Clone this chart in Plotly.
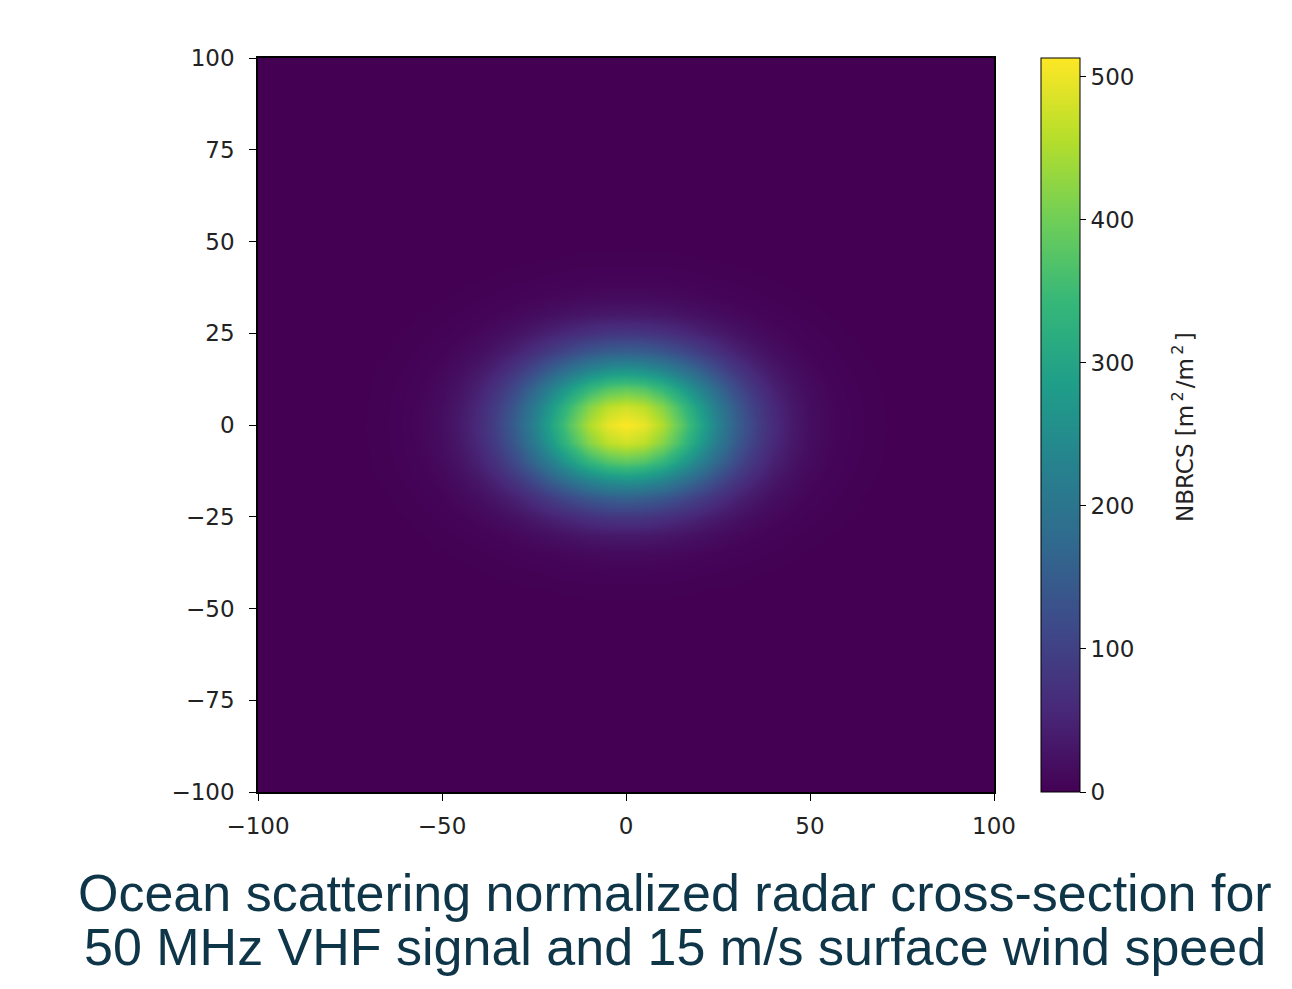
import plotly.graph_objects as go

# Grid positions (units of the axes)
x_pos = list(range(-100, 101, 5))
y_pos = list(range(-100, 101, 5))

# NBRCS profile along y = 0 (x = 0, 5, ..., 100; symmetric)
x_profile_half = [513, 497, 450, 382, 303, 226, 157, 102, 63, 36, 19, 10, 4.5, 2, 0.8, 0.3, 0, 0, 0, 0, 0]
# NBRCS profile along x = 0 (y = 0, 5, ..., 100; symmetric)
y_profile_half = [513, 476, 382, 264, 157, 81, 36, 14, 4.5, 1.3, 0.3, 0, 0, 0, 0, 0, 0, 0, 0, 0, 0]

peak_value = 513
cbar_ticks = [0, 100, 200, 300, 400, 500]
x_ticks = [-100, -50, 0, 50, 100]
y_ticks = [-100, -75, -50, -25, 0, 25, 50, 75, 100]

caption_lines = ["Ocean scattering normalized radar cross-section for",
                 "50 MHz VHF signal and 15 m/s surface wind speed"]
cbar_title = "NBRCS [m<sup>\u20092\u2009</sup>/m<sup>\u20092\u2009</sup>]"

x_profile = x_profile_half[:0:-1] + x_profile_half
y_profile = y_profile_half[:0:-1] + y_profile_half
z = [[py * px / peak_value for px in x_profile] for py in y_profile]

# page offset of the figure inside the browser (body margin)
OFF = 8
W, H = 1292 - 2 * OFF, 989 - 2 * OFF
PL, PR, PT, PB = 258 - OFF, 994 - OFF, 58 - OFF, 792 - OFF
pw, ph = PR - PL, PB - PT

tick_font = dict(family="DejaVu Sans", size=23, color="#222222")

fig = go.Figure(go.Heatmap(
    x=x_pos, y=y_pos, z=z,
    colorscale="Viridis", zmin=0, zmax=peak_value, zsmooth="best",
    colorbar=dict(
        x=(1041 - OFF - PL) / pw, xanchor="left", xpad=0,
        y=0.5, yanchor="middle", len=1, lenmode="fraction", ypad=0,
        thickness=39, outlinecolor="black", outlinewidth=1,
        tickvals=cbar_ticks, ticks="outside", ticklen=6, tickcolor="black",
        tickprefix="\u00a0", tickfont=tick_font,
    ),
))

fig.update_xaxes(range=[-100, 100], tickvals=x_ticks, ticks="outside", ticklen=7,
                 tickcolor="black", showline=True, linecolor="black", linewidth=1.5,
                 mirror=True, showgrid=False, zeroline=False, tickfont=tick_font,
                 ticklabelstandoff=6)
fig.update_yaxes(range=[-100, 100], tickvals=y_ticks, ticks="outside", ticklen=7,
                 tickcolor="black", showline=True, linecolor="black", linewidth=1.5,
                 mirror=True, showgrid=False, zeroline=False, tickfont=tick_font,
                 ticklabelstandoff=10)

fig.add_annotation(text=cbar_title, xref="paper", yref="paper",
                   x=(1183 - OFF - PL) / pw, y=(PB - (427 - OFF)) / ph, textangle=-90,
                   xanchor="center", yanchor="middle", showarrow=False,
                   font=dict(family="DejaVu Sans", size=23, color="#222222"))

for i, line in enumerate(caption_lines):
    fig.add_annotation(text=line, xref="paper", yref="paper",
                       x=(675 - OFF - PL) / pw, y=(PB - ([893, 947][i] - OFF)) / ph,
                       xanchor="center", yanchor="middle", showarrow=False,
                       font=dict(family="Liberation Sans", size=52, color="#0e3548"))

fig.update_layout(width=W, height=H,
                  margin=dict(l=PL, r=W - PR, t=PT, b=H - PB),
                  paper_bgcolor="white", plot_bgcolor="white",
                  showlegend=False)

fig.write_html("out.html")
